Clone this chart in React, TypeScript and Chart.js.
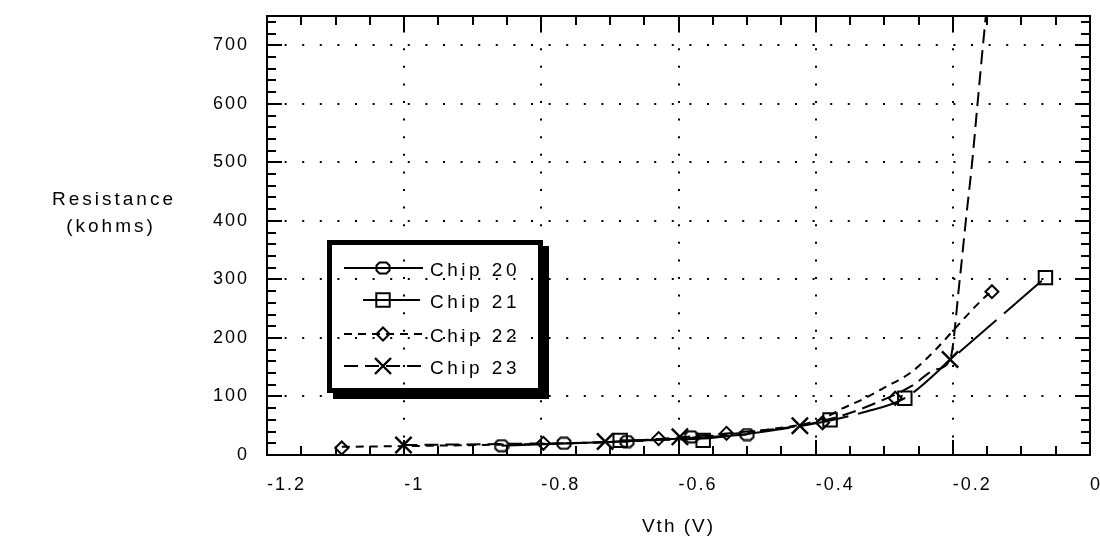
import React, { useEffect, useRef } from 'react';
import { Chart, registerables } from 'chart.js';

Chart.register(...registerables);

const FONT = "'Liberation Sans', Arial, Helvetica, sans-serif";

// ---- axes ----
const xTickValues = [-1.2, -1, -0.8, -0.6, -0.4, -0.2, 0];
const xTickLabels = ['-1.2', '-1', '-0.8', '-0.6', '-0.4', '-0.2', '0'];
const yTickValues = [0, 100, 200, 300, 400, 500, 600, 700];
const yTickLabels = ['0', '100', '200', '300', '400', '500', '600', '700'];
const xRange = [-1.2, 0];
const yRange = [0, 750];
const xMinorStep = 0.05;
const yMinorStep = 20;
const xTitle = 'Vth (V)';
const yTitleLines = ['Resistance', '(kohms)'];

// ---- series ----
const seriesNames = ['Chip 20', 'Chip 21', 'Chip 22', 'Chip 23'];

// measured points (markers)
const chip20Vth = [-0.858, -0.767, -0.675, -0.581, -0.5];
const chip20Res = [16, 20, 23, 31, 35];
const chip21Vth = [-0.685, -0.564, -0.379, -0.27, -0.065];
const chip21Res = [25, 25, 60, 97, 303];
const chip22Vth = [-1.091, -0.797, -0.629, -0.53, -0.39, -0.284, -0.143];
const chip22Res = [12, 20, 28, 37, 55, 97, 279];
const chip23Vth = [-1.001, -0.707, -0.598, -0.423, -0.204];
const chip23Res = [17, 23, 31, 50, 163];

// fitted curves (lines)
const chip20FitVth = [-0.858, -0.767, -0.675, -0.58, -0.5];
const chip20FitRes = [16, 19.5, 23.5, 29, 35];
const chip21FitVth = [-0.685, -0.62, -0.564, -0.5, -0.44, -0.379, -0.33, -0.27, -0.2, -0.13, -0.065];
const chip21FitRes = [25, 26, 28, 36, 46, 59, 73, 97, 166, 237, 303];
const chip22FitVth = [-1.091, -0.95, -0.8, -0.7, -0.6, -0.53, -0.46, -0.42, -0.39, -0.36, -0.33, -0.3, -0.26, -0.225, -0.2, -0.175, -0.155, -0.143];
const chip22FitRes = [14, 16, 19, 22, 28, 35, 45, 52, 62, 80, 96, 115, 142, 180, 212, 244, 268, 280];
const chip23FitVth = [-1.001, -0.85, -0.707, -0.6, -0.5, -0.423, -0.36, -0.3, -0.26, -0.225, -0.204, -0.19, -0.181, -0.172, -0.164, -0.1545, -0.145];
const chip23FitRes = [17, 19, 22, 30, 40, 50, 68, 95, 118, 146, 163, 299, 401, 498, 600, 719, 830];

const lineDashes: number[][] = [[], [50, 10], [8, 6], [14, 7]];
const markerKinds = ['hex', 'rect', 'diamond', 'x'];

function makeHex(): HTMLCanvasElement {
  const c = document.createElement('canvas');
  c.width = 16;
  c.height = 14;
  const g = c.getContext('2d')!;
  g.strokeStyle = '#000';
  g.lineWidth = 2;
  const P = [[4.5, 1.5], [11.5, 1.5], [14.5, 4.5], [14.5, 9.5], [11.5, 12.5], [4.5, 12.5], [1.5, 9.5], [1.5, 4.5]];
  g.beginPath();
  P.forEach(([x, y], i) => (i ? g.lineTo(x, y) : g.moveTo(x, y)));
  g.closePath();
  g.stroke();
  return c;
}

function drawMarker(ctx: CanvasRenderingContext2D, kind: string, x: number, y: number, hex: HTMLCanvasElement) {
  ctx.save();
  ctx.setLineDash([]);
  ctx.strokeStyle = '#000';
  ctx.lineWidth = 2;
  ctx.beginPath();
  if (kind === 'hex') {
    ctx.drawImage(hex, x - hex.width / 2, y - hex.height / 2);
  } else if (kind === 'rect') {
    ctx.rect(x - 6.7, y - 6.7, 13.4, 13.4);
  } else if (kind === 'diamond') {
    ctx.moveTo(x - 6.5, y);
    ctx.lineTo(x, y - 6.5);
    ctx.lineTo(x + 6.5, y);
    ctx.lineTo(x, y + 6.5);
    ctx.closePath();
  } else {
    ctx.lineWidth = 2.4;
    ctx.moveTo(x - 8, y - 8);
    ctx.lineTo(x + 8, y + 8);
    ctx.moveTo(x - 8, y + 8);
    ctx.lineTo(x + 8, y - 8);
  }
  ctx.stroke();
  ctx.restore();
}

export default function App() {
  const ref = useRef<HTMLCanvasElement>(null);

  useEffect(() => {
    const canvas = ref.current!;
    const hex = makeHex();
    const pts = (xs: number[], ys: number[]) => xs.map((x, i) => ({ x, y: ys[i] }));

    const fits = [
      pts(chip20FitVth, chip20FitRes),
      pts(chip21FitVth, chip21FitRes),
      pts(chip22FitVth, chip22FitRes),
      pts(chip23FitVth, chip23FitRes),
    ];
    const marks = [
      pts(chip20Vth, chip20Res),
      pts(chip21Vth, chip21Res),
      pts(chip22Vth, chip22Res),
      pts(chip23Vth, chip23Res),
    ];
    const chartStyles: any[] = [hex, 'rect', 'rectRot', 'crossRot'];
    const radii = [7, 9.5, 6.5, 11.5];

    const datasets: any[] = [];
    seriesNames.forEach((name, i) => {
      datasets.push({
        label: name + ' fit',
        data: fits[i],
        showLine: true,
        borderColor: '#000',
        borderWidth: 2,
        borderDash: lineDashes[i],
        pointRadius: 0,
        fill: false,
        cubicInterpolationMode: 'monotone',
      });
      datasets.push({
        label: name,
        data: marks[i],
        showLine: false,
        pointStyle: chartStyles[i],
        pointRadius: radii[i],
        pointBorderWidth: i === 3 ? 2.4 : 2,
        pointBorderColor: '#000',
        pointBackgroundColor: 'rgba(0,0,0,0)',
        borderColor: '#000',
        backgroundColor: 'rgba(0,0,0,0)',
      });
    });

    const decor = {
      id: 'decor',
      beforeDraw(chart: any) {
        (chart.ctx as any).letterSpacing = '2px';
      },
      beforeDatasetsDraw(chart: any) {
        const ctx = chart.ctx as CanvasRenderingContext2D;
        const { left, right, top, bottom } = chart.chartArea;
        const xs = chart.scales.x;
        const ys = chart.scales.y;
        ctx.save();
        ctx.strokeStyle = '#000';
        ctx.lineWidth = 2;
        ctx.setLineDash([2, 15.6]);
        xTickValues.forEach((v) => {
          const px = Math.round(xs.getPixelForValue(v));
          if (px <= left + 1 || px >= right - 1) return;
          ctx.beginPath();
          ctx.moveTo(px, bottom);
          ctx.lineTo(px, top);
          ctx.stroke();
        });
        yTickValues.forEach((v) => {
          const py = Math.round(ys.getPixelForValue(v));
          if (py >= bottom - 1 || py <= top + 1) return;
          ctx.beginPath();
          ctx.moveTo(left, py);
          ctx.lineTo(right, py);
          ctx.stroke();
        });
        ctx.restore();
      },
      afterDatasetsDraw(chart: any) {
        const ctx = chart.ctx as CanvasRenderingContext2D;
        const { left, right, top, bottom } = chart.chartArea;
        const xs = chart.scales.x;
        const ys = chart.scales.y;
        const MAJOR = 15;
        const MINOR = 9;
        ctx.save();
        ctx.setLineDash([]);
        ctx.strokeStyle = '#000';
        ctx.lineWidth = 2;
        ctx.strokeRect(left, top, right - left, bottom - top);
        const nX = Math.round((xRange[1] - xRange[0]) / xMinorStep);
        for (let i = 0; i <= nX; i++) {
          const v = xRange[0] + i * xMinorStep;
          const px = Math.round(xs.getPixelForValue(v));
          const len = i % 4 === 0 ? MAJOR : MINOR;
          ctx.beginPath();
          ctx.moveTo(px, bottom);
          ctx.lineTo(px, bottom - len);
          ctx.moveTo(px, top);
          ctx.lineTo(px, top + len);
          ctx.stroke();
        }
        const nY = Math.floor((yRange[1] - yRange[0]) / yMinorStep);
        for (let i = 0; i <= nY; i++) {
          const v = yRange[0] + i * yMinorStep;
          const py = Math.round(ys.getPixelForValue(v));
          const len = v % 100 === 0 ? MAJOR : MINOR;
          ctx.beginPath();
          ctx.moveTo(left, py);
          ctx.lineTo(left + len, py);
          ctx.moveTo(right, py);
          ctx.lineTo(right - len, py);
          ctx.stroke();
        }
        ctx.restore();
      },
      afterDraw(chart: any) {
        const ctx = chart.ctx as CanvasRenderingContext2D;
        ctx.save();
        // y title (horizontal, two lines)
        ctx.fillStyle = '#000';
        ctx.font = `19px ${FONT}`;
        (ctx as any).letterSpacing = '3px';
        ctx.textAlign = 'center';
        ctx.textBaseline = 'middle';
        ctx.fillText(yTitleLines[0], 114, 200);
        ctx.fillText(yTitleLines[1], 111, 227);

        // legend box with drop shadow
        const L = 327, T = 240, R = 543, B = 393, S = 6;
        ctx.fillRect(L + S, B, R - L, S);
        ctx.fillRect(R, T + S, S, B - T);
        ctx.lineWidth = 5;
        ctx.strokeStyle = '#000';
        ctx.strokeRect(L + 2.5, T + 2.5, R - L - 5, B - T - 5);

        (ctx as any).letterSpacing = '3.5px';
        const rows = [268, 300, 334, 366];
        const spans = [[344, 423], [363, 420], [344, 423], [344, 423]];
        seriesNames.forEach((name, i) => {
          const y = rows[i];
          ctx.save();
          ctx.lineWidth = 2;
          ctx.setLineDash(i === 1 ? [] : lineDashes[i]);
          ctx.beginPath();
          ctx.moveTo(spans[i][0], y);
          ctx.lineTo(spans[i][1], y);
          ctx.stroke();
          ctx.restore();
          drawMarker(ctx, markerKinds[i], 383, y, hex);
          ctx.textAlign = 'left';
          ctx.fillText(name, 430, y + 3);
        });
        ctx.restore();
      },
    };

    const chart = new Chart(canvas, {
      type: 'scatter',
      data: { datasets },
      options: {
        responsive: false,
        animation: false,
        devicePixelRatio: 1,
        events: [],
        layout: { autoPadding: false, padding: { left: 0, top: 16, right: 10, bottom: 0 } },
        plugins: { legend: { display: false }, tooltip: { enabled: false } },
        scales: {
          x: {
            type: 'linear',
            min: xRange[0],
            max: xRange[1],
            grid: { display: false, drawTicks: false },
            border: { display: false },
            afterBuildTicks: (s: any) => {
              s.ticks = xTickValues.map((v) => ({ value: v }));
            },
            afterFit: (s: any) => {
              s.height = 100;
              s.paddingLeft = 0;
              s.paddingRight = 0;
              s.paddingTop = 0;
              s.paddingBottom = 0;
            },
            ticks: {
              align: 'start',
              autoSkip: false,
              maxRotation: 0,
              padding: 19,
              color: '#000',
              font: { family: FONT, size: 18 },
              callback: (_v: any, i: number) => xTickLabels[i],
            },
            title: {
              display: true,
              text: xTitle,
              color: '#000',
              font: { family: FONT, size: 19 },
              padding: { top: 0, bottom: 17 },
            },
          },
          y: {
            type: 'linear',
            min: yRange[0],
            max: yRange[1],
            grid: { display: false, drawTicks: false },
            border: { display: false },
            afterBuildTicks: (s: any) => {
              s.ticks = yTickValues.map((v) => ({ value: v }));
            },
            afterFit: (s: any) => {
              s.width = 267;
              s.paddingLeft = 0;
              s.paddingRight = 0;
              s.paddingTop = 0;
              s.paddingBottom = 0;
            },
            ticks: {
              padding: 18,
              color: '#000',
              font: { family: FONT, size: 18 },
              callback: (_v: any, i: number) => yTickLabels[i],
            },
          },
        },
      } as any,
      plugins: [decor],
    });
    return () => chart.destroy();
  }, []);

  return (
    <div style={{ position: 'absolute', left: 0, top: 0, width: 1100, height: 555, background: '#fff' }}>
      <canvas ref={ref} width={1100} height={555} style={{ display: 'block' }} />
    </div>
  );
}
